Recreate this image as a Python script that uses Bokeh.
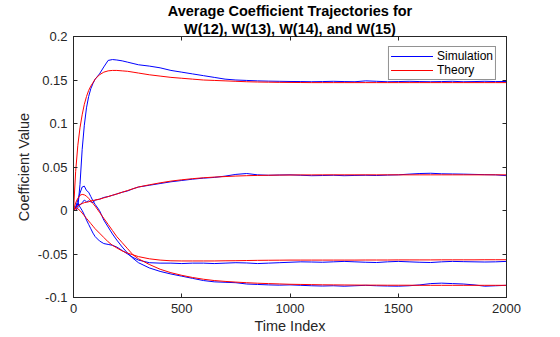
from bokeh.plotting import figure
from bokeh.models import LinearAxis, FixedTicker, CustomJSTickFormatter, Range1d, Title
from bokeh.embed import file_html
from bokeh.resources import INLINE

# ---- data ----
t = [0, 10, 20, 30, 40, 50, 60, 70, 80, 90, 100, 120, 140, 160, 180, 200, 225, 250, 275, 300,
     350, 400, 450, 500, 550, 600, 650, 700, 750, 800, 850, 900, 950, 1000, 1050, 1100, 1150,
     1200, 1250, 1300, 1350, 1400, 1450, 1500, 1550, 1600, 1650, 1700, 1750, 1800, 1850, 1900,
     1950, 2000]

sim_w12 = [0.0, 0.0, 0.003, 0.030, 0.070, 0.098, 0.118, 0.131, 0.140, 0.146, 0.151, 0.157,
           0.165, 0.1725, 0.1735, 0.173, 0.172, 0.1705, 0.169, 0.1675, 0.166, 0.164, 0.161, 0.159,
           0.157, 0.155, 0.153, 0.151, 0.150, 0.1495, 0.149, 0.1487, 0.1485, 0.1483, 0.1482,
           0.148, 0.1482, 0.1485, 0.1482, 0.148, 0.149, 0.1485, 0.148, 0.1482, 0.1485, 0.1482,
           0.148, 0.1482, 0.1485, 0.148, 0.1482, 0.1485, 0.1482, 0.1483]
thy_w12 = [0.0, 0.045, 0.075, 0.095, 0.110, 0.122, 0.131, 0.138, 0.143, 0.147, 0.151, 0.156,
           0.159, 0.1605, 0.161, 0.161, 0.1605, 0.160, 0.159, 0.158, 0.156, 0.1545, 0.153, 0.152,
           0.151, 0.150, 0.1495, 0.149, 0.1485, 0.148, 0.1477, 0.1475, 0.1473, 0.1472, 0.1471,
           0.147, 0.147, 0.147, 0.147, 0.147, 0.147, 0.147, 0.147, 0.147, 0.147, 0.147, 0.147,
           0.147, 0.147, 0.147, 0.147, 0.147, 0.147, 0.147]

sim_w13 = [0.0, 0.002, 0.008, 0.006, 0.009, 0.012, 0.010, 0.011, 0.010, 0.009, 0.012, 0.013,
           0.015, 0.016, 0.0175, 0.019, 0.021, 0.0225, 0.025, 0.027, 0.029, 0.031, 0.033, 0.0345,
           0.036, 0.0372, 0.038, 0.0395, 0.0415, 0.0425, 0.041, 0.0405, 0.0408, 0.041, 0.0405,
           0.040, 0.0402, 0.0405, 0.040, 0.0403, 0.0405, 0.0402, 0.0407, 0.041, 0.0418, 0.0425,
           0.0428, 0.0422, 0.042, 0.0418, 0.0415, 0.0412, 0.041, 0.040]
thy_w13 = [0.0, 0.003, 0.005, 0.007, 0.008, 0.009, 0.0095, 0.010, 0.011, 0.0115, 0.012, 0.013,
           0.0145, 0.016, 0.0175, 0.019, 0.021, 0.023, 0.025, 0.027, 0.0295, 0.0318, 0.0338,
           0.0353, 0.0366, 0.0376, 0.0384, 0.039, 0.0396, 0.040, 0.0403, 0.0405, 0.0407, 0.0408,
           0.0409, 0.0409, 0.041, 0.041, 0.041, 0.041, 0.041, 0.041, 0.041, 0.041, 0.041, 0.041,
           0.041, 0.041, 0.041, 0.041, 0.041, 0.041, 0.041, 0.041]

sim_w14 = [0.0, 0.004, 0.008, 0.004, 0.0, -0.005, -0.011, -0.016, -0.021, -0.026, -0.030, -0.035,
           -0.038, -0.039, -0.040, -0.042, -0.046, -0.050, -0.054, -0.057, -0.060, -0.0605,
           -0.0605, -0.061, -0.0605, -0.0605, -0.061, -0.0605, -0.060, -0.0603, -0.061, -0.0605,
           -0.060, -0.0595, -0.059, -0.0592, -0.0595, -0.059, -0.0585, -0.059, -0.0595, -0.0598,
           -0.059, -0.0585, -0.059, -0.0595, -0.0598, -0.059, -0.0585, -0.0588, -0.059, -0.0592,
           -0.059, -0.0585]
thy_w14 = [0.0, 0.002, 0.002, 0.0, -0.003, -0.006, -0.009, -0.012, -0.015, -0.018, -0.021, -0.026,
           -0.031, -0.036, -0.040, -0.043, -0.0465, -0.049, -0.051, -0.053, -0.0555, -0.057,
           -0.0578, -0.058, -0.058, -0.058, -0.058, -0.0578, -0.0577, -0.0575, -0.0573, -0.0572,
           -0.0571, -0.057, -0.057, -0.057, -0.057, -0.057, -0.057, -0.057, -0.0569, -0.0569,
           -0.0569, -0.0568, -0.0568, -0.0568, -0.0568, -0.0567, -0.0567, -0.0567, -0.0567,
           -0.0566, -0.0566, -0.0566]

sim_w15 = [0.0, 0.004, 0.012, 0.020, 0.027, 0.028, 0.023, 0.021, 0.016, 0.011, 0.007, 0.0,
           -0.011, -0.019, -0.027, -0.034, -0.042, -0.049, -0.055, -0.060, -0.066, -0.070, -0.073,
           -0.0755, -0.078, -0.0805, -0.082, -0.0825, -0.083, -0.0845, -0.085, -0.0855, -0.0858,
           -0.0855, -0.086, -0.0865, -0.0868, -0.0865, -0.087, -0.0865, -0.086, -0.0865, -0.0868,
           -0.087, -0.0865, -0.0855, -0.084, -0.0835, -0.084, -0.0845, -0.0855, -0.087, -0.0865,
           -0.086]
thy_w15 = [0.0, 0.009, 0.014, 0.0175, 0.0185, 0.018, 0.0165, 0.014, 0.011, 0.008, 0.005, -0.002,
           -0.009, -0.016, -0.023, -0.030, -0.037, -0.044, -0.051, -0.0555, -0.062, -0.0675,
           -0.0715, -0.0745, -0.077, -0.079, -0.0805, -0.0815, -0.0823, -0.083, -0.0836, -0.084,
           -0.0844, -0.0848, -0.085, -0.0852, -0.0854, -0.0855, -0.0856, -0.0857, -0.0858,
           -0.0858, -0.0859, -0.0859, -0.0859, -0.086, -0.086, -0.086, -0.086, -0.086, -0.086,
           -0.086, -0.086, -0.086]

sim_series = [sim_w12, sim_w13, sim_w14, sim_w15]
thy_series = [thy_w12, thy_w13, thy_w14, thy_w15]

x_ticks = [0, 500, 1000, 1500, 2000]
y_ticks = [-0.1, -0.05, 0, 0.05, 0.1, 0.15, 0.2]

title_line1 = "Average Coefficient Trajectories for"
title_line2 = "W(12), W(13), W(14), and W(15)"
x_label = "Time Index"
y_label = "Coefficient Value"

FONT = "Liberation Sans"
AXC = "#262626"

p = figure(width=560, height=337, output_backend="svg", toolbar_location=None, title=None,
           x_range=Range1d(0, 2000), y_range=Range1d(-0.1, 0.2),
           min_border_left=73, min_border_right=54, min_border_top=36, min_border_bottom=40)

p.xgrid.visible = False
p.ygrid.visible = False
p.outline_line_color = AXC
p.outline_line_width = 1
p.background_fill_color = "white"
p.border_fill_color = "white"

fmt = CustomJSTickFormatter(code="return Number(tick.toFixed(2)).toString();")
blank = CustomJSTickFormatter(code="return '';")

def style_axis(ax):
    ax.minor_tick_line_color = None
    ax.major_tick_in = 4
    ax.major_tick_out = 0
    ax.axis_line_color = AXC
    ax.major_tick_line_color = AXC
    ax.major_label_text_color = AXC
    ax.major_label_text_font = FONT
    ax.major_label_text_font_size = "13px"
    ax.axis_label_text_font = FONT
    ax.axis_label_text_font_size = "14.5px"
    ax.axis_label_text_font_style = "normal"
    ax.axis_label_text_color = AXC

xa = p.xaxis[0]
xa.ticker = FixedTicker(ticks=x_ticks)
xa.axis_label = x_label
xa.major_label_standoff = 6
xa.axis_label_standoff = 2
style_axis(xa)

ya = p.yaxis[0]
ya.ticker = FixedTicker(ticks=y_ticks)
ya.formatter = fmt
ya.axis_label = y_label
ya.major_label_standoff = 6
ya.axis_label_standoff = 3
style_axis(ya)

top_ax = LinearAxis(ticker=FixedTicker(ticks=x_ticks), major_label_standoff=0, formatter=blank)
style_axis(top_ax)
p.add_layout(top_ax, "above")
right_ax = LinearAxis(ticker=FixedTicker(ticks=y_ticks), major_label_standoff=0, formatter=blank)
style_axis(right_ax)
p.add_layout(right_ax, "right")

for txt in (title_line2, title_line1):
    p.add_layout(Title(text=txt, text_font=FONT, text_font_size="14.5px", text_font_style="bold",
                       align="center", text_color="#000000", standoff=0, offset=0), "above")

for s in sim_series:
    p.line(t, s, line_color="#0000ff", line_width=1, legend_label="Simulation")
for s in thy_series:
    p.line(t, s, line_color="#ff0000", line_width=1, legend_label="Theory")

lg = p.legend[0]
lg.location = "top_right"
lg.margin = 10
lg.padding = 2
lg.spacing = 0
lg.glyph_width = 42
lg.glyph_height = 14
lg.label_height = 14
lg.label_standoff = 4
lg.label_text_font = FONT
lg.label_text_font_size = "12px"
lg.label_text_color = "#000000"
lg.border_line_color = AXC
lg.border_line_width = 1
lg.background_fill_alpha = 1.0

open("out.html", "w").write(file_html(p, INLINE))
